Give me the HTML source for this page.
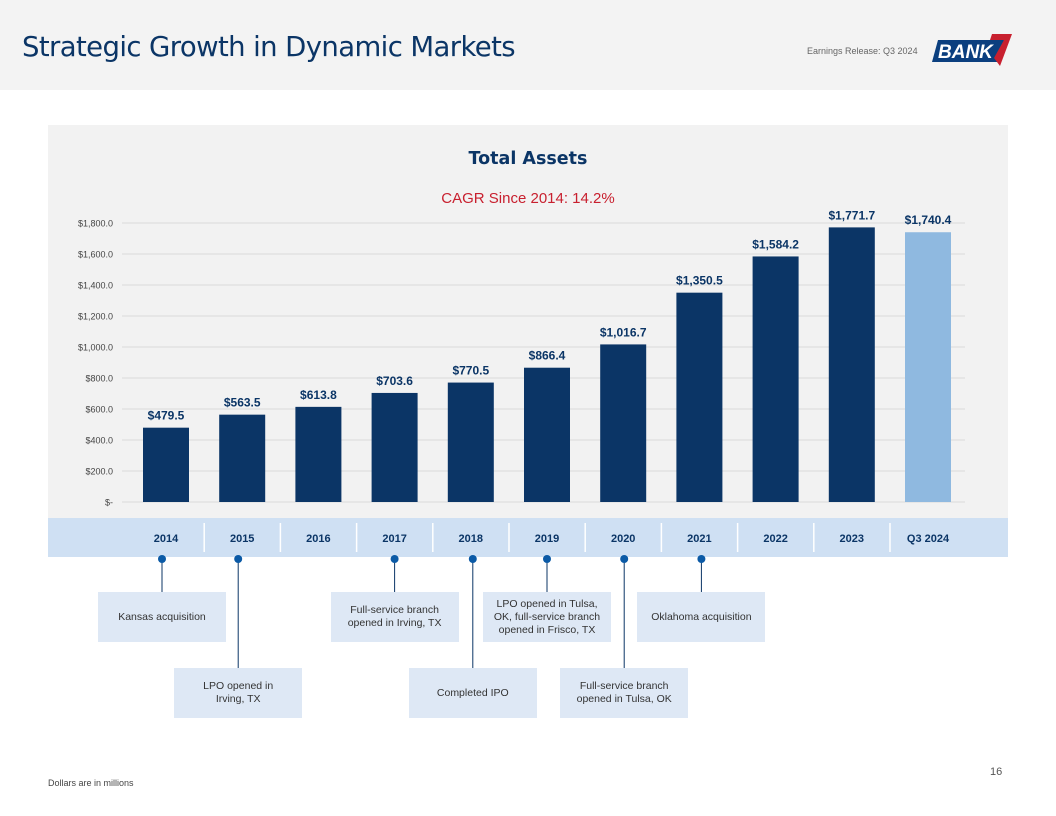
<!DOCTYPE html>
<html><head><meta charset="utf-8"><style>
body{margin:0;width:1056px;height:816px;background:#fff;position:relative;overflow:hidden;font-family:"Liberation Sans",sans-serif}
.abs{position:absolute}
.box{position:absolute;background:#dee8f5;color:#333;font-size:10.5px;line-height:13px;display:flex;align-items:center;justify-content:center;text-align:center}
</style></head><body>
<div class="abs" style="left:0;top:0;width:1056px;height:90px;background:#f3f3f3"></div>
<div class="abs" style="left:22px;top:31px;font-size:27.5px;color:#0b3566;font-family:'DejaVu Sans',sans-serif;letter-spacing:-0.6px">Strategic Growth in Dynamic Markets</div>
<div class="abs" style="left:807px;top:46px;font-size:9px;color:#666">Earnings Release: Q3 2024</div>
<svg class="abs" style="left:932px;top:32px" width="85" height="40">
<polygon points="6,8 72,8 66,30 0,30" fill="#0b3f7f"/>
<text x="6" y="26" font-size="19" font-weight="bold" font-style="italic" fill="#fff" font-family="Liberation Sans">BANK</text>
<polygon points="60,2 80,2 68,34 62,26 72,8 58,8" fill="#c8202f"/>
</svg>
<div class="abs" style="left:48px;top:125px;width:960px;height:393px;background:#f2f2f2"></div>
<div class="abs" style="left:48px;top:149px;width:960px;text-align:center;font-size:17.5px;font-weight:bold;color:#0b3566;font-family:'DejaVu Sans',sans-serif">Total Assets</div>
<div class="abs" style="left:48px;top:190px;width:960px;text-align:center;font-size:15px;color:#c8202f">CAGR Since 2014: 14.2%</div>
<svg class="abs" id="chart" style="left:0;top:0" width="1056" height="816"></svg>
<div class="abs" style="left:48px;top:778px;font-size:9px;color:#444">Dollars are in millions</div>
<div class="abs" style="left:990px;top:766px;font-size:11px;color:#555">16</div>
<script>
const categories=["2014","2015","2016","2017","2018","2019","2020","2021","2022","2023","Q3 2024"];
const values=[479.5,563.5,613.8,703.6,770.5,866.4,1016.7,1350.5,1584.2,1771.7,1740.4];
const valueLabels=["$479.5","$563.5","$613.8","$703.6","$770.5","$866.4","$1,016.7","$1,350.5","$1,584.2","$1,771.7","$1,740.4"];
const ticks=[0,200,400,600,800,1000,1200,1400,1600,1800];
const tickLabels=["$-","$200.0","$400.0","$600.0","$800.0","$1,000.0","$1,200.0","$1,400.0","$1,600.0","$1,800.0"];
const events=["Kansas acquisition","LPO opened in<br>Irving, TX","Full-service branch<br>opened in Irving, TX","Completed IPO","LPO opened in Tulsa,<br>OK, full-service branch<br>opened in Frisco, TX","Full-service branch<br>opened in Tulsa, OK","Oklahoma acquisition"];
const eventYears=[0,1,3,4,5,6,7];
const eventRow=[0,1,0,1,0,1,0];
const eventShift=[-4,-4,0,2,0,1,2];
const svg=document.getElementById('chart');const NS='http://www.w3.org/2000/svg';
const y=v=>502-v*(279/1800);
const x=i=>166+i*76.2;
function mk(t,a){const e=document.createElementNS(NS,t);for(const k in a)e.setAttribute(k,a[k]);svg.appendChild(e);return e;}
ticks.forEach((t,i)=>{
 const l=mk('line',{x1:122,x2:965,y1:y(t),y2:y(t),stroke:'#d9d9d9','stroke-width':1});
 
 
 const tx=mk('text',{x:113,y:y(t)+3.5,'text-anchor':'end','font-size':9,fill:'#444'});tx.textContent=tickLabels[i];
 
 
});
values.forEach((v,i)=>{
 const r=mk('rect',{x:x(i)-23,y:y(v),width:46,height:502-y(v),fill:i==values.length-1?'#8fb9e0':'#0b3566'});
 
 
 const t=mk('text',{x:x(i),y:y(v)-8,'text-anchor':'middle','font-size':12,'font-weight':'bold',fill:'#0b3566'});t.textContent=valueLabels[i];
 
 
});
const band=mk('rect',{x:48,y:518,width:960,height:39,fill:'#cfe0f3'});


categories.forEach((c,i)=>{
 if(i>0){const s=mk('line',{x1:x(i)-38,x2:x(i)-38,y1:523,y2:552,stroke:'#fff','stroke-width':1.5});
 
 }
 const t=mk('text',{x:x(i),y:542,'text-anchor':'middle','font-size':11,'font-weight':'bold',fill:'#0b3566'});t.textContent=c;
 
 
});
eventYears.forEach((yi,k)=>{
 const cx=x(yi)+eventShift[k];const top=eventRow[k]?668:592;
 const ln=mk('line',{x1:cx,x2:cx,y1:559,y2:top,stroke:'#0b3566','stroke-width':1});
 
 
 const d=mk('circle',{cx:cx,cy:559,r:4,fill:'#0b5aa6'});
 
 
 const b=document.createElement('div');b.className='box';
 b.style.left=(cx-64)+'px';b.style.top=top+'px';b.style.width='128px';b.style.height='50px';b.innerHTML=events[k];
 
 
 document.body.appendChild(b);
});
</script>
</body></html>
